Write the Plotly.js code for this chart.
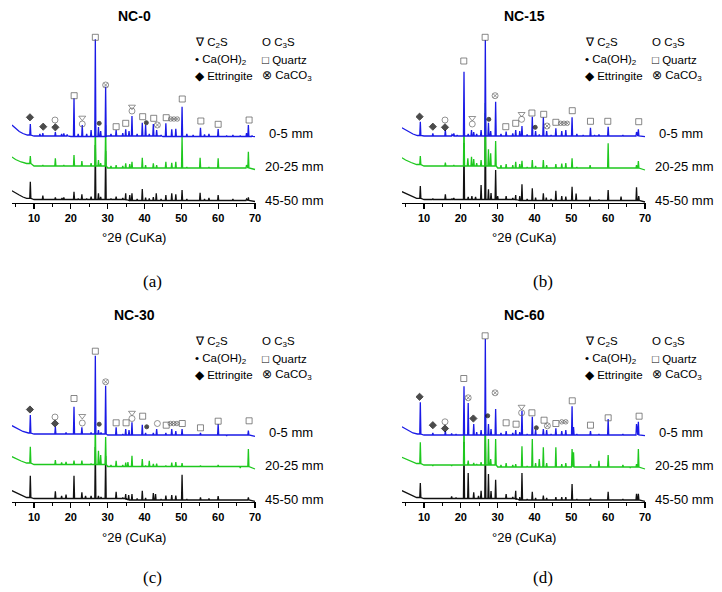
<!DOCTYPE html>
<html><head><meta charset="utf-8">
<script src="https://cdn.plot.ly/plotly-3.0.1.min.js"></script>
<style>html,body{margin:0;padding:0;background:#fff}#chart{width:722px;height:592px}</style>
</head><body><div id="chart"></div>
<script>
// ---------- DATA (2θ in degrees, intensity in arbitrary stacked units) ----------
const panelTitles = ["NC-0", "NC-15", "NC-30", "NC-60"];
const panelCaptions = ["(a)", "(b)", "(c)", "(d)"];
const depthLabels = ["0-5 mm", "20-25 mm", "45-50 mm"];
const tickValues = [10, 20, 30, 40, 50, 60, 70];

// ---- NC-0 ----
const aBlueFloor = [[4,78],[4.8,75],[6,71.5],[7,69.5],[8.2,68],[10,67],[20,66.5],[30,67],[45,66.5],[70,66.3]];
const aBluePeaks = [[9.0,79],[11.6,69],[12.4,70],[15.8,71],[17.5,69],[18.1,69.5],[19.0,68.5],[20.86,104.7],[22.0,69],[23.1,78],[24.3,69],[25.5,73],[26.65,163.7],[27.5,76],[28.1,72],[29.45,116.3],[30.9,69],[32.3,73],[34.1,70],[34.9,73.7],[35.8,72],[36.6,87],[38.0,69],[39.4,80.3],[40.3,78],[41.3,69],[42.4,79],[43.3,73],[44.5,68],[45.8,79.7],[47.4,73.7],[48.5,74.3],[50.2,96.3],[51.5,69],[53.2,68],[55.2,75.3],[56.3,68.5],[57.5,69],[60.0,74],[62.3,67.5],[64.0,68],[66.0,67.5],[67.7,70],[68.2,78],[69.2,67.5]];
const aGreenFloor = [[4,46],[5,43.5],[6.5,41],[8,39.5],[10,37],[30,35],[70,33.5]];
const aGreenPeaks = [[9.0,47],[12.4,38],[15.8,44.7],[17.6,37],[18.1,38],[19.0,37],[20.86,48],[23.0,42],[24.3,37],[25.5,40],[26.65,82],[27.5,43],[28.1,40],[29.45,78],[30.9,37],[32.3,38],[34.1,37],[34.9,39.7],[36.0,39],[36.6,41.3],[39.4,45.3],[40.3,38],[42.4,39.7],[43.3,38],[45.8,41.3],[47.4,40.3],[48.5,41.3],[50.2,66.3],[51.5,36],[55.1,45.3],[56.3,35],[57.5,36],[60.0,44.7],[64.0,35],[66.0,34.5],[67.7,38],[68.2,51.3]];
const aBlackFloor = [[4,12.3],[5,10.5],[6,8],[7,6],[8,4.7],[10,3.5],[35,2.5],[70,1.5]];
const aBlackPeaks = [[9.0,21.3],[11.6,4],[12.4,7.3],[15.8,5.5],[17.6,5],[18.1,5.5],[19.0,4],[20.86,11.3],[22.0,4.5],[23.0,8.7],[24.3,4.5],[25.5,6.3],[26.65,58],[27.5,9.7],[28.1,6],[29.45,52],[30.9,4.5],[32.3,6.3],[34.1,5],[34.9,9.7],[36.0,8],[36.6,9.7],[38.0,4],[39.4,14],[40.3,5.5],[41.3,4.5],[42.4,6],[43.2,9.7],[44.5,4],[45.8,8],[47.4,9.7],[48.5,8.7],[50.2,13],[51.5,4],[53.2,3],[55.1,10.3],[56.3,4],[57.5,5],[60.0,8],[62.3,3],[64.0,4],[66.0,3],[67.7,4],[68.2,5.7]];
const aPhases = [[8.9,85.7,"E"],[12.5,76.3,"E"],[15.7,83,"C3"],[15.8,75.7,"E"],[20.9,107.3,"Q"],[23.1,85.3,"C2"],[23.1,79,"C3"],[26.65,165.7,"Q"],[27.7,79.7,"CH"],[29.45,118,"CC"],[32.3,76.3,"Q"],[34.9,79.7,"Q"],[36.6,96.3,"C2"],[36.6,92,"C3"],[39.5,86.3,"Q"],[40.5,80.3,"CH"],[42.5,84.7,"Q"],[43.5,78,"CC"],[45.9,85.3,"Q"],[47.1,84,"cc"],[48.0,84,"cc"],[48.9,84,"cc"],[50.25,104,"Q"],[55.3,82,"Q"],[60.0,78.7,"Q"],[68.4,83,"Q"]];

// ---- NC-15 ----
const bBlueFloor = [[4,75.3],[5,73],[6,70.5],[7,69],[8.2,67.5],[10,67],[30,67],[70,66.3]];
const bBluePeaks = [[9.0,81.3],[12.4,69.7],[15.8,73],[17.6,68.5],[18.1,69.5],[19.0,68],[20.86,131.3],[22.0,69],[22.9,73],[23.5,71],[24.3,69],[25.5,73],[26.65,163],[27.5,80.3],[28.1,72],[29.45,101.3],[30.9,69],[32.3,71.3],[34.1,69.5],[34.9,73],[36.0,72],[36.6,77],[38.0,68.5],[39.4,86.3],[40.3,72],[41.3,68.5],[42.4,85.7],[43.3,72],[44.5,68],[45.8,74.7],[47.4,72],[48.5,73],[50.2,85.7],[51.5,69],[53.2,68],[55.2,75.3],[56.3,68],[57.5,68.5],[60.0,76.3],[62.3,67.5],[64.0,68],[66.0,67.5],[67.7,71],[68.2,73.7]];
const bGreenFloor = [[4,45.3],[5,43],[6.5,40.5],[8,38.5],[10,37],[30,35],[70,33]];
const bGreenPeaks = [[9.0,47],[12.4,37],[15.8,40.3],[17.6,37],[18.1,38],[19.0,37],[20.86,82],[21.9,44.7],[22.9,46.3],[23.5,44],[24.3,40],[25.5,43],[26.65,100],[27.5,53.7],[28.1,49.7],[29.45,62],[30.9,38],[32.3,39],[34.1,38],[34.9,41.3],[36.0,39],[36.6,42.3],[38.0,36],[39.4,43],[40.3,37],[42.4,43],[43.3,38],[45.8,39],[47.4,39.5],[48.5,40],[50.2,44.7],[51.5,36],[55.1,38],[57.5,35],[60.0,59.7],[64.0,34.5],[67.7,38],[68.2,42]];
const bBlackFloor = [[4,11.3],[5,9.5],[6,7.5],[7,6],[8,4.7],[10,3.5],[35,2.5],[70,1]];
const bBlackPeaks = [[9.0,17],[12.4,4.5],[15.8,8.7],[17.6,4.5],[18.1,5],[19.0,4],[20.86,60],[22.0,6],[23.0,7],[24.0,6],[25.5,18],[26.65,90],[27.5,13.7],[28.2,10],[29.45,33],[30.0,7],[30.9,4],[32.3,7],[34.1,5],[34.9,8],[36.0,7],[36.6,18.7],[38.0,4],[39.4,14.7],[40.3,5.5],[42.4,9.7],[43.2,5.5],[44.5,4],[45.8,12.3],[47.4,7],[48.5,6.5],[50.2,16.3],[51.3,9.5],[53.2,3],[55.1,6.5],[57.5,3.5],[60.0,13],[62.3,3],[63.5,6.5],[66.0,3],[67.7,15.7],[68.3,7]];
const bPhases = [[8.8,86.3,"E"],[12.4,76.3,"E"],[15.7,83,"C3"],[15.7,75.7,"E"],[20.8,142,"Q"],[23.1,85,"C2"],[23.1,79,"C3"],[27.6,83.7,"CH"],[26.6,165.7,"Q"],[29.3,107.3,"CC"],[32.2,76.3,"Q"],[34.9,79.7,"Q"],[36.5,89,"C2"],[36.5,83.7,"C3"],[39.3,90,"Q"],[40.2,75.7,"CH"],[42.5,88.7,"Q"],[43.4,77,"CC"],[45.8,80.7,"Q"],[47.1,79.7,"cc"],[48.0,79.7,"cc"],[48.9,79.7,"cc"],[50.25,92.3,"Q"],[55.2,81.7,"Q"],[59.9,81.7,"Q"],[68.3,81.3,"Q"]];

// ---- NC-30 ----
const cBlueFloor = [[4,76.3],[5,74.5],[6,72],[7,70.5],[8.5,69],[10,68],[30,67],[70,65.7]];
const cBluePeaks = [[9.0,87],[11.5,67.5],[12.4,67.5],[15.8,75.3],[17.5,68.5],[18.7,69.5],[20.86,95.3],[22.0,68],[23.0,74.7],[24.3,67.5],[25.5,69.5],[26.65,146.3],[27.5,72],[28.2,69.5],[29.45,116.3],[30.9,67],[32.3,74.7],[34.1,68],[34.9,73],[35.8,72],[36.6,79.7],[38.0,67],[39.4,77.3],[40.3,69],[41.3,67],[42.4,69],[43.3,73],[44.5,66.5],[45.8,69],[47.4,73],[48.5,71],[50.2,73],[51.5,67],[55.2,69],[57.5,67.5],[60.0,78],[62.3,66],[64.0,66.5],[67.7,67.5],[68.2,71.3]];
const cGreenFloor = [[4,45.3],[5,43.5],[6.5,41],[8,39],[10,37.5],[30,35.5],[70,33]];
const cGreenPeaks = [[9.0,55.3],[11.5,37],[15.8,42],[17.5,39.5],[18.7,40],[20.86,41.3],[23.0,41.3],[24.3,37],[25.5,38.5],[26.65,80],[27.5,51.3],[28.1,47],[29.45,65],[30.9,37],[32.3,41.3],[34.1,37],[34.9,39.5],[35.5,40],[36.6,46.3],[38.0,36],[39.4,43],[40.3,36.5],[41.3,41.3],[42.4,38],[43.3,38.5],[45.8,36.5],[47.4,39.5],[48.5,40],[50.2,39],[51.5,35],[55.2,36.5],[57.5,36],[60.0,37],[64.0,35.5],[66.0,34],[68.2,53]];
const cBlackFloor = [[4,11.3],[5,9.5],[6,7.5],[7,5.5],[8,4.5],[10,3.5],[35,2],[70,0.7]];
const cBlackPeaks = [[9.0,26.3],[11.5,4],[12.4,3.5],[15.8,10.7],[17.5,6],[18.7,7.5],[20.86,26.3],[22.0,4],[23.0,9.7],[24.0,6],[25.5,6],[26.65,55],[27.5,6],[28.2,5],[29.45,46],[30.9,4],[32.3,10.3],[34.1,4.5],[34.9,8],[35.7,7],[36.6,8],[38.0,3.5],[39.4,11.3],[40.3,4],[42.4,9],[43.0,8],[44.5,3],[45.8,6.5],[47.4,7],[48.5,6.5],[50.2,27.3],[51.5,3],[55.2,4.5],[57.5,3.5],[60.0,6],[62.3,2.5],[64.0,2.5],[68.2,4.5]];
const cPhases = [[8.9,92.5,"E"],[15.7,85,"C3"],[15.7,78.5,"E"],[20.86,103.5,"Q"],[23.1,86,"C2"],[23.1,79,"C3"],[27.7,77.8,"CH"],[26.65,150.8,"Q"],[29.45,120.2,"CC"],[32.3,79.2,"Q"],[35.0,79.2,"Q"],[36.6,89.2,"C2"],[36.6,83.5,"C3"],[39.5,85.8,"Q"],[40.6,75.2,"CH"],[43.5,78.5,"C3"],[45.9,76.8,"Q"],[47.0,78.5,"cc"],[47.9,78.5,"cc"],[48.8,78.5,"cc"],[50.25,78.5,"Q"],[55.2,74.2,"Q"],[60.0,80.8,"Q"],[68.4,81.2,"Q"]];

// ---- NC-60 ----
const dBlueFloor = [[4,75.3],[5,73],[6,70.5],[7,69],[8.2,68],[10,67],[30,67],[70,66.3]];
const dBluePeaks = [[9.0,99.7],[12.4,69],[15.8,71],[17.5,68.5],[18.7,68],[20.86,115.7],[22.0,99],[23.5,78],[24.3,70],[25.5,72],[26.65,163],[27.5,78],[28.2,73],[29.45,93],[30.9,69],[32.3,71],[34.1,69],[34.9,72],[36.0,70],[36.6,91.3],[38.0,68],[39.4,85.3],[40.3,72],[42.4,73],[43.3,72],[44.5,68],[45.8,73.7],[47.4,71],[48.5,72],[50.2,95.7],[50.6,75],[51.5,68],[53.2,67.5],[55.2,71],[57.5,68],[60.0,83],[62.3,67.5],[64.0,68],[66.0,67.5],[67.7,78],[68.2,80.3]];
const dGreenFloor = [[4,44.7],[5,43],[6.5,40.5],[8,38.5],[10,37],[30,35],[70,33]];
const dGreenPeaks = [[9.0,59.7],[12.4,36],[15.8,37],[17.5,36],[18.7,37],[20.86,78],[22.0,41.3],[23.5,39],[24.3,38],[25.5,40],[26.65,85],[27.5,63],[28.1,43],[29.45,63],[30.9,37],[32.3,39],[34.1,37],[34.9,38],[36.6,55.7],[38.0,36],[39.4,63],[40.3,39],[41.3,43],[42.4,54.7],[43.3,39],[45.8,54.7],[47.4,38],[48.5,39],[50.2,53],[50.6,49.7],[51.5,35],[55.2,38],[57.5,41.3],[60.0,47],[64.0,37],[66.0,34],[67.7,38],[68.2,53]];
const dBlackFloor = [[4,11.3],[5,9.5],[6,7.5],[7,5.5],[8,4.5],[10,3.5],[35,2],[70,0.7]];
const dBlackPeaks = [[9.0,19],[12.4,3.5],[15.8,3.5],[17.5,5.5],[18.7,4.5],[20.86,60],[22.0,29],[23.5,9.7],[24.8,6],[25.5,11.3],[26.65,70],[27.5,28],[28.2,11],[29.45,22.3],[30.9,4],[32.3,8],[34.1,5],[34.9,11.3],[36.0,5],[36.6,29],[38.0,3],[39.4,10.3],[40.3,4],[42.4,6.5],[43.3,4],[45.8,5],[47.4,5],[48.5,5],[50.2,18],[51.5,3],[55.2,4],[57.5,2.5],[60.0,10.3],[62.3,2],[64.0,3],[67.7,8.3],[68.2,8.3]];
const dPhases = [[8.8,105.2,"E"],[12.4,76.8,"E"],[15.7,80.2,"C3"],[15.7,73.5,"E"],[20.8,123.5,"Q"],[22.0,104.2,"CC"],[23.4,83.5,"E"],[27.3,86.2,"CH"],[26.6,166.2,"Q"],[29.3,109.2,"CC"],[32.3,79.2,"Q"],[35.0,77.8,"Q"],[36.5,95.2,"C2"],[36.5,89.2,"C3"],[39.3,89.2,"Q"],[40.5,74.2,"CH"],[42.6,81.8,"Q"],[43.5,76.2,"CC"],[45.8,78.5,"Q"],[47.4,80.2,"cc"],[48.5,80.2,"cc"],[50.25,101.2,"Q"],[55.2,76.8,"Q"],[60.0,84.2,"Q"],[68.4,85.8,"Q"]];

// ---------- BUILD ----------
const W = 722, H = 592;
const px = x => x / W, py = y => 1 - y / H;
const panels = [
  {floors:[aBlackFloor,aGreenFloor,aBlueFloor], peaks:[aBlackPeaks,aGreenPeaks,aBluePeaks], phases:aPhases, dx:0,   dy:0},
  {floors:[bBlackFloor,bGreenFloor,bBlueFloor], peaks:[bBlackPeaks,bGreenPeaks,bBluePeaks], phases:bPhases, dx:390, dy:0},
  {floors:[cBlackFloor,cGreenFloor,cBlueFloor], peaks:[cBlackPeaks,cGreenPeaks,cBluePeaks], phases:cPhases, dx:0,   dy:299},
  {floors:[dBlackFloor,dGreenFloor,dBlueFloor], peaks:[dBlackPeaks,dGreenPeaks,dBluePeaks], phases:dPhases, dx:390, dy:299}
];
const colors = ["#111111", "#1ec81e", "#1a1ae6"];
const symStyle = {
  Q:  {symbol:"square-open", size:6, color:"#555"},
  C3: {symbol:"circle-open", size:6, color:"#666"},
  C2: {symbol:"triangle-down-open", size:6, color:"#666"},
  CH: {symbol:"circle", size:4, color:"#000"},
  E:  {symbol:"diamond", size:5.5, color:"#000"},
  CC: {symbol:"circle-x-open", size:6, color:"#666"},
  cc: {symbol:"circle-x-open", size:4.5, color:"#666"}
};

function floorAt(floor, x) {
  let v = floor[0][1];
  for (const f of floor) { if (f[0] <= x) v = f[1]; }
  return v;
}
function buildPattern(floor, peaks) {
  const w = 0.15;
  const pts = floor.map(f => [f[0], f[1]]);
  for (const p of peaks) {
    const b = floorAt(floor, p[0]);
    pts.push([p[0] - w, b], [p[0], p[1]], [p[0] + w, b]);
  }
  pts.sort((a, b) => a[0] - b[0]);
  return {x: pts.map(p => p[0]), y: pts.map(p => p[1])};
}

const traces = [];
const layout = {
  width: W, height: H, margin: {l:0, r:0, t:0, b:0},
  paper_bgcolor: "#fff", plot_bgcolor: "rgba(0,0,0,0)",
  showlegend: false, annotations: [],
  font: {family: "Liberation Sans, Arial, sans-serif", color: "#000"}
};
const fontSans = "Liberation Sans, Arial, sans-serif";

panels.forEach((P, i) => {
  const n = i + 1;
  const xa = n === 1 ? "x" : "x" + n, ya = n === 1 ? "y" : "y" + n;
  const xl = n === 1 ? "xaxis" : "xaxis" + n, yl = n === 1 ? "yaxis" : "yaxis" + n;
  const x0 = 11.9 + P.dx, x1 = 256.1 + P.dx;
  const yb = 203 + P.dy, yt = 31 + P.dy;
  layout[xl] = {
    domain: [px(x0), px(x1)], range: [4, 70.3], anchor: ya,
    showline: true, linecolor: "#000", linewidth: 1.2, mirror: false,
    ticks: "outside", ticklen: 5, tickwidth: 1.1, tickcolor: "#000",
    tickvals: tickValues, ticktext: tickValues.map(String),
    minor: {tickvals: [5,15,25,35,45,55,65], ticks: "outside", ticklen: 3, tickwidth: 1, tickcolor: "#000"},
    showgrid: false, zeroline: false, fixedrange: true,
    tickfont: {family: fontSans, size: 11, color: "#000", weight: "bold"}
  };
  layout[yl] = {domain: [py(yb), py(yt)], range: [0, 172], anchor: xa, visible: false, fixedrange: true};

  for (let k = 0; k < 3; k++) {
    const d = buildPattern(P.floors[k], P.peaks[k]);
    traces.push({type: "scatter", mode: "lines", x: d.x, y: d.y, xaxis: xa, yaxis: ya,
      line: {color: colors[k], width: 1.3}, hoverinfo: "skip"});
  }
  traces.push({type: "scatter", mode: "markers", xaxis: xa, yaxis: ya, cliponaxis: false,
    x: P.phases.map(p => p[0]), y: P.phases.map(p => p[1]),
    marker: {
      symbol: P.phases.map(p => symStyle[p[2]].symbol),
      size: P.phases.map(p => symStyle[p[2]].size),
      color: P.phases.map(p => symStyle[p[2]].color),
      line: {width: 1, color: P.phases.map(p => symStyle[p[2]].color)}
    }, hoverinfo: "skip"});

  const A = layout.annotations;
  const ann = (text, x, y, opts) => A.push(Object.assign({text, xref: "paper", yref: "paper",
    x: px(x), y: py(y), showarrow: false, xanchor: "left", yanchor: "middle",
    font: {family: fontSans, size: 11.5, color: "#000"}}, opts || {}));
  // panel title
  ann(panelTitles[i], 134 + P.dx, 16 + P.dy, {xanchor: "center", font: {family: fontSans, size: 14, color: "#000", weight: "bold"}});
  // phase key
  const c1 = 193 + P.dx, c2 = 260 + P.dx;
  ann("\u2207 C<sub>2</sub>S", c1, 43 + P.dy);
  ann("O C<sub>3</sub>S", c2, 43 + P.dy);
  ann("\u2022 Ca(OH)<sub>2</sub>", c1, 60 + P.dy);
  ann("\u25A1 Quartz", c2, 60 + P.dy);
  ann("\u25C6 Ettringite", c1, 76 + P.dy);
  ann("\u2297 CaCO<sub>3</sub>", c2, 76 + P.dy);
  // depth labels
  ann(depthLabels[0], 267 + P.dx, 133 + P.dy, {font: {family: fontSans, size: 13, color: "#000"}});
  ann(depthLabels[1], 263 + P.dx, 166 + P.dy, {font: {family: fontSans, size: 13, color: "#000"}});
  ann(depthLabels[2], 263 + P.dx, 200 + P.dy, {font: {family: fontSans, size: 13, color: "#000"}});
  // axis title
  ann("\u00B02\u03B8 (CuKa)", 134 + P.dx, 238 + P.dy, {xanchor: "center", font: {family: fontSans, size: 13, color: "#000"}});
  // caption
  ann(panelCaptions[i], 152 + P.dx * 1.0026, 281 + P.dy * 0.99, {xanchor: "center", font: {family: "Liberation Serif, Times New Roman, serif", size: 17, color: "#000"}});
});

Plotly.newPlot("chart", traces, layout, {staticPlot: true, displayModeBar: false});
</script></body></html>
